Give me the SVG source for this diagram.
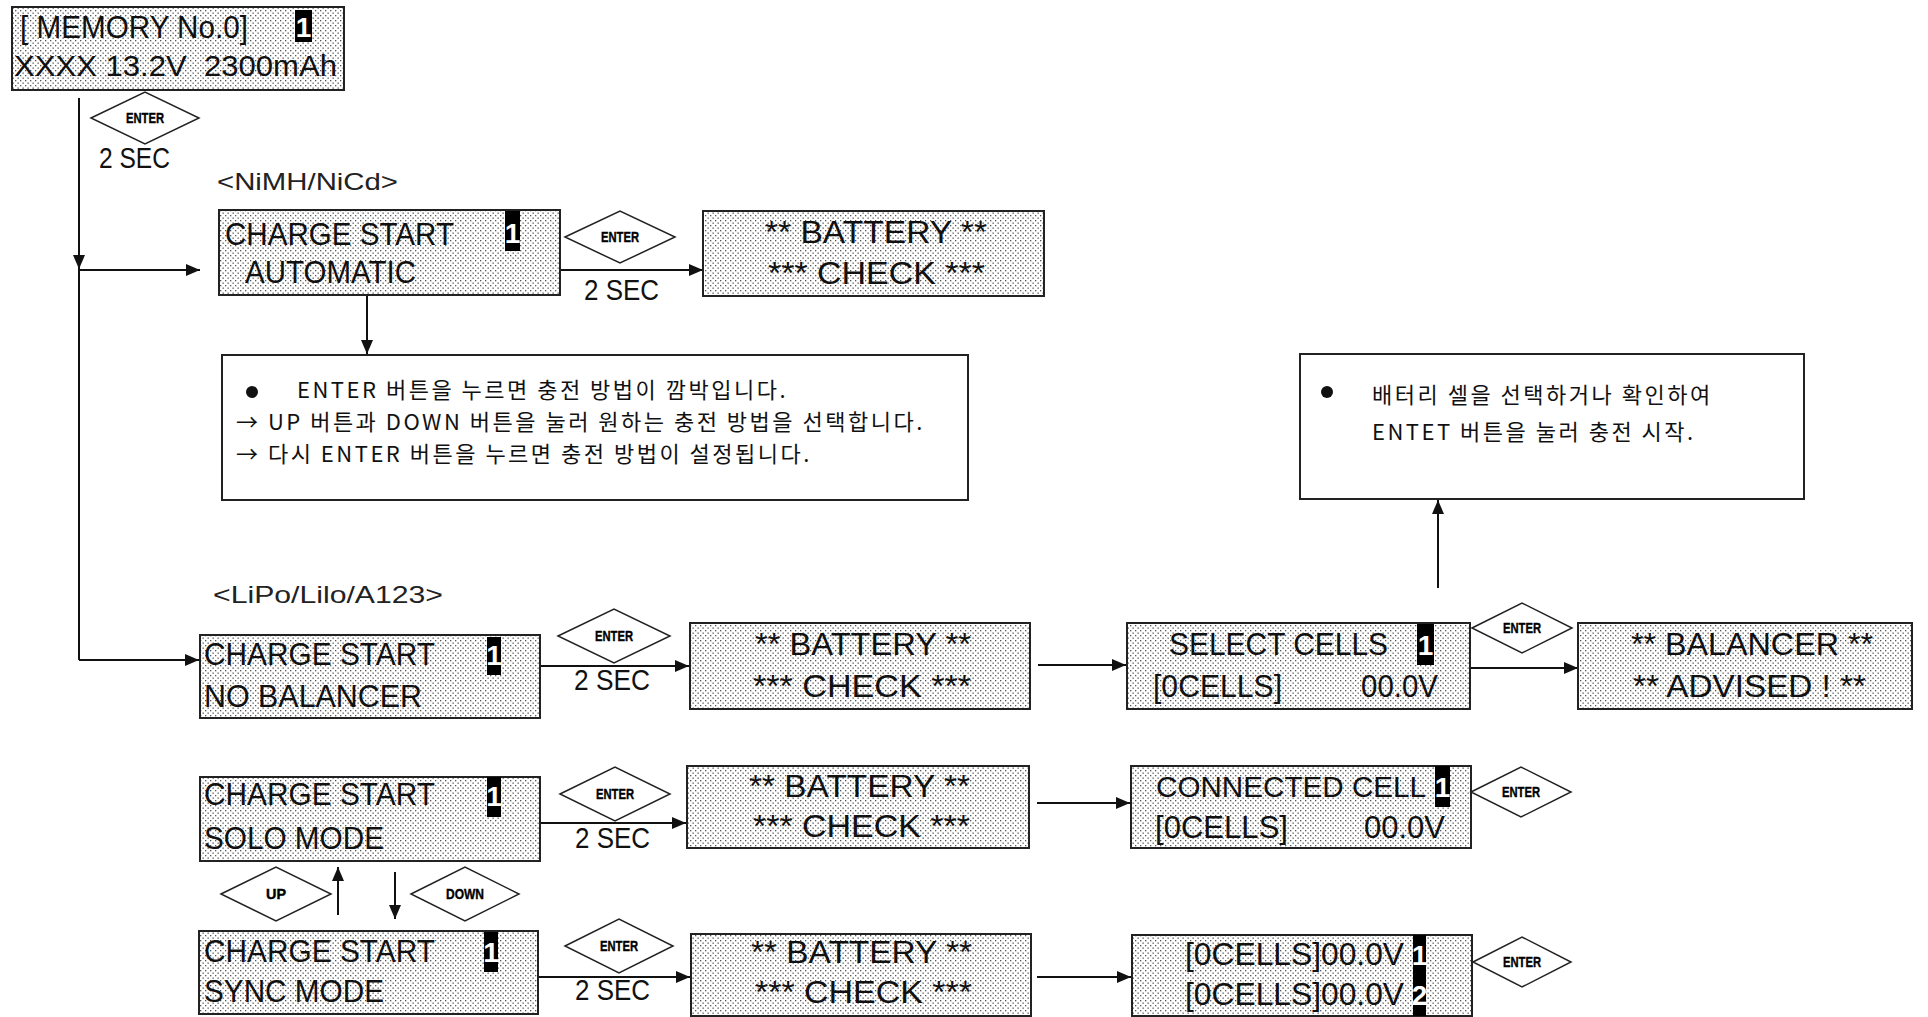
<svg xmlns="http://www.w3.org/2000/svg" width="1928" height="1017" viewBox="0 0 1928 1017">
<defs>
<pattern id="dots" patternUnits="userSpaceOnUse" width="5" height="5">
<rect width="5" height="5" fill="#ffffff"/>
<rect x="0" y="0" width="1.3" height="1.3" fill="#555"/>
<rect x="2.5" y="2.5" width="1.3" height="1.3" fill="#555"/>
</pattern>
<marker id="ah" viewBox="0 0 14 12" refX="14" refY="6" markerWidth="14" markerHeight="12" markerUnits="userSpaceOnUse" orient="auto">
<path d="M0,0 L14,6 L0,12 Z" fill="#111"/>
</marker>
</defs>
<style>
.lcd{fill:url(#dots);stroke:#222;stroke-width:2}
.t{font-family:"Liberation Sans",Arial,sans-serif;font-size:32px;fill:#111}
.t2{font-family:"Liberation Sans",Arial,sans-serif;font-size:30px;fill:#111}
.hl{fill:#000}
.hlt{font-family:"Liberation Sans",Arial,sans-serif;font-weight:bold;font-size:28px;fill:#fff;text-anchor:middle}
.dia{fill:#fff;stroke:#222;stroke-width:1.5}
.dt{font-family:"Liberation Sans",Arial,sans-serif;font-weight:bold;font-size:15px;fill:#000;stroke:#000;stroke-width:0.4;text-anchor:middle}
.sec{font-family:"Liberation Sans",Arial,sans-serif;font-size:29px;fill:#111}
.ln{stroke:#111;stroke-width:2;fill:none}
.arr{stroke:#111;stroke-width:2;fill:none;marker-end:url(#ah)}
.box{fill:#fff;stroke:#222;stroke-width:2}
.kr{font-family:"Noto Sans CJK KR","Liberation Sans",sans-serif;font-size:22px;letter-spacing:2.5px;fill:#111}
.lbl{font-family:"Liberation Sans",Arial,sans-serif;font-size:24px;fill:#222}
</style>

<g id="connectors">
<path class="ln" d="M79,98 V660"/>
<path class="arr" d="M79,240 V269"/>
<path class="arr" d="M79,270 H200"/>
<path class="arr" d="M79,660 H199"/>
<path class="arr" d="M560,270 H703"/>
<path class="arr" d="M367,296 V354"/>
<path class="arr" d="M1438,588 V500"/>
<path class="arr" d="M540,666 H689"/>
<path class="arr" d="M1038,665 H1126"/>
<path class="arr" d="M1470,668 H1578"/>
<path class="arr" d="M540,823 H686"/>
<path class="arr" d="M1037,803 H1130"/>
<path class="arr" d="M538,977 H690"/>
<path class="arr" d="M1037,977 H1131"/>
<path class="arr" d="M338,915 V867"/>
<path class="arr" d="M395,872 V919"/>
</g>

<g id="memory">
<rect class="lcd" x="12" y="7" width="332" height="83"/>
<text class="t" x="20" y="38" textLength="228" lengthAdjust="spacingAndGlyphs">[ MEMORY No.0]</text>
<rect class="hl" x="295" y="10" width="17" height="32"/>
<text class="hlt" x="303.5" y="37">1</text>
<text class="t2" x="14" y="76" textLength="323" lengthAdjust="spacingAndGlyphs" xml:space="preserve">XXXX 13.2V  2300mAh</text>
</g>

<g id="enter-memory">
<polygon class="dia" points="91,118 145,92 199,118 145,144"/>
<text class="dt" x="145" y="123" textLength="38" lengthAdjust="spacingAndGlyphs">ENTER</text>
<text class="sec" x="99" y="168" textLength="71" lengthAdjust="spacingAndGlyphs">2 SEC</text>
</g>

<text id="label-nimh" class="lbl" x="217" y="190" textLength="181" lengthAdjust="spacingAndGlyphs">&lt;NiMH/NiCd&gt;</text>

<g id="nimh-charge">
<rect class="lcd" x="219" y="210" width="341" height="85"/>
<text class="t" x="225" y="245" textLength="229" lengthAdjust="spacingAndGlyphs">CHARGE START</text>
<rect class="hl" x="505" y="211" width="15" height="40"/>
<text class="hlt" x="512.5" y="243">1</text>
<text class="t" x="245" y="283" textLength="171" lengthAdjust="spacingAndGlyphs">AUTOMATIC</text>
</g>

<g id="enter-nimh">
<polygon class="dia" points="565,237 620,211 675,237 620,263"/>
<text class="dt" x="620" y="242" textLength="38" lengthAdjust="spacingAndGlyphs">ENTER</text>
<text class="sec" x="584" y="300" textLength="75" lengthAdjust="spacingAndGlyphs">2 SEC</text>
</g>

<g id="battery-check-1">
<rect class="lcd" x="703" y="211" width="341" height="85"/>
<text class="t" x="765" y="243" textLength="222" lengthAdjust="spacingAndGlyphs">** BATTERY **</text>
<text class="t" x="768" y="284" textLength="217" lengthAdjust="spacingAndGlyphs">*** CHECK ***</text>
</g>

<g id="info-1">
<rect class="box" x="222" y="355" width="746" height="145"/>
<circle cx="252" cy="392" r="6" fill="#111"/>
<text class="kr" x="297" y="398">ENTER 버튼을 누르면 충전 방법이 깜박입니다.</text>
<text class="kr" x="236" y="430">→ UP 버튼과 DOWN 버튼을 눌러 원하는 충전 방법을 선택합니다.</text>
<text class="kr" x="236" y="462">→ 다시 ENTER 버튼을 누르면 충전 방법이 설정됩니다.</text>
</g>

<g id="info-2">
<rect class="box" x="1300" y="354" width="504" height="145"/>
<circle cx="1327" cy="392" r="6" fill="#111"/>
<text class="kr" x="1372" y="403">배터리 셀을 선택하거나 확인하여</text>
<text class="kr" x="1372" y="440">ENTET 버튼을 눌러 충전 시작.</text>
</g>

<text id="label-lipo" class="lbl" x="213" y="603" textLength="230" lengthAdjust="spacingAndGlyphs">&lt;LiPo/Lilo/A123&gt;</text>

<g id="no-balancer">
<rect class="lcd" x="200" y="635" width="340" height="83"/>
<text class="t" x="204" y="665" textLength="231" lengthAdjust="spacingAndGlyphs">CHARGE START</text>
<rect class="hl" x="487" y="637" width="14" height="38"/>
<text class="hlt" x="494" y="665">1</text>
<text class="t" x="204" y="707" textLength="218" lengthAdjust="spacingAndGlyphs">NO BALANCER</text>
</g>

<g id="enter-lipo">
<polygon class="dia" points="558,636 614,609 670,636 614,663"/>
<text class="dt" x="614" y="641" textLength="38" lengthAdjust="spacingAndGlyphs">ENTER</text>
<text class="sec" x="574" y="690" textLength="76" lengthAdjust="spacingAndGlyphs">2 SEC</text>
</g>

<g id="battery-check-2">
<rect class="lcd" x="690" y="623" width="340" height="86"/>
<text class="t" x="755" y="655" textLength="216" lengthAdjust="spacingAndGlyphs">** BATTERY **</text>
<text class="t" x="753" y="697" textLength="218" lengthAdjust="spacingAndGlyphs">*** CHECK ***</text>
</g>

<g id="select-cells">
<rect class="lcd" x="1127" y="623" width="343" height="86"/>
<text class="t" x="1169" y="655" textLength="219" lengthAdjust="spacingAndGlyphs">SELECT CELLS</text>
<rect class="hl" x="1417" y="624" width="17" height="41"/>
<text class="hlt" x="1425.5" y="655">1</text>
<text class="t" x="1153" y="697" textLength="129" lengthAdjust="spacingAndGlyphs">[0CELLS]</text>
<text class="t" x="1361" y="697" textLength="77" lengthAdjust="spacingAndGlyphs">00.0V</text>
</g>

<g id="enter-select">
<polygon class="dia" points="1472,628 1522,603 1572,628 1522,653"/>
<text class="dt" x="1522" y="633" textLength="38" lengthAdjust="spacingAndGlyphs">ENTER</text>
</g>

<g id="balancer-advised">
<rect class="lcd" x="1578" y="623" width="334" height="86"/>
<text class="t" x="1631" y="655" textLength="242" lengthAdjust="spacingAndGlyphs">** BALANCER **</text>
<text class="t" x="1633" y="697" textLength="233" lengthAdjust="spacingAndGlyphs">** ADVISED ! **</text>
</g>

<g id="solo-mode">
<rect class="lcd" x="200" y="777" width="340" height="84"/>
<text class="t" x="204" y="805" textLength="231" lengthAdjust="spacingAndGlyphs">CHARGE START</text>
<rect class="hl" x="487" y="777" width="14" height="40"/>
<text class="hlt" x="494" y="806">1</text>
<text class="t" x="204" y="849" textLength="180" lengthAdjust="spacingAndGlyphs">SOLO MODE</text>
</g>

<g id="enter-solo">
<polygon class="dia" points="560,794 615,767 670,794 615,821"/>
<text class="dt" x="615" y="799" textLength="38" lengthAdjust="spacingAndGlyphs">ENTER</text>
<text class="sec" x="575" y="848" textLength="75" lengthAdjust="spacingAndGlyphs">2 SEC</text>
</g>

<g id="battery-check-3">
<rect class="lcd" x="687" y="766" width="342" height="82"/>
<text class="t" x="749" y="797" textLength="221" lengthAdjust="spacingAndGlyphs">** BATTERY **</text>
<text class="t" x="753" y="837" textLength="217" lengthAdjust="spacingAndGlyphs">*** CHECK ***</text>
</g>

<g id="connected-cell">
<rect class="lcd" x="1131" y="766" width="340" height="82"/>
<text class="t" x="1156" y="797" style="font-size:29.5px" textLength="270" lengthAdjust="spacingAndGlyphs">CONNECTED CELL</text>
<rect class="hl" x="1435" y="766" width="15" height="41"/>
<text class="hlt" x="1442.5" y="797">1</text>
<text class="t" x="1155" y="838" textLength="133" lengthAdjust="spacingAndGlyphs">[0CELLS]</text>
<text class="t" x="1364" y="838" textLength="81" lengthAdjust="spacingAndGlyphs">00.0V</text>
</g>

<g id="enter-connected">
<polygon class="dia" points="1471,792 1521,767 1571,792 1521,817"/>
<text class="dt" x="1521" y="797" textLength="38" lengthAdjust="spacingAndGlyphs">ENTER</text>
</g>

<g id="up-key">
<polygon class="dia" points="221,894 276,867 331,894 276,921"/>
<text class="dt" x="276" y="899" textLength="20" lengthAdjust="spacingAndGlyphs">UP</text>
</g>

<g id="down-key">
<polygon class="dia" points="411,894 465,867 519,894 465,921"/>
<text class="dt" x="465" y="899" textLength="38" lengthAdjust="spacingAndGlyphs">DOWN</text>
</g>

<g id="sync-mode">
<rect class="lcd" x="199" y="931" width="339" height="83"/>
<text class="t" x="204" y="962" textLength="231" lengthAdjust="spacingAndGlyphs">CHARGE START</text>
<rect class="hl" x="484" y="932" width="14" height="40"/>
<text class="hlt" x="491" y="962">1</text>
<text class="t" x="204" y="1002" textLength="180" lengthAdjust="spacingAndGlyphs">SYNC MODE</text>
</g>

<g id="enter-sync">
<polygon class="dia" points="565,946 619,919 673,946 619,973"/>
<text class="dt" x="619" y="951" textLength="38" lengthAdjust="spacingAndGlyphs">ENTER</text>
<text class="sec" x="575" y="1000" textLength="75" lengthAdjust="spacingAndGlyphs">2 SEC</text>
</g>

<g id="battery-check-4">
<rect class="lcd" x="691" y="934" width="340" height="82"/>
<text class="t" x="751" y="963" textLength="221" lengthAdjust="spacingAndGlyphs">** BATTERY **</text>
<text class="t" x="755" y="1003" textLength="217" lengthAdjust="spacingAndGlyphs">*** CHECK ***</text>
</g>

<g id="cells-sync">
<rect class="lcd" x="1132" y="935" width="340" height="81"/>
<text class="t" x="1185" y="965" textLength="219" lengthAdjust="spacingAndGlyphs">[0CELLS]00.0V</text>
<text class="t" x="1185" y="1005" textLength="219" lengthAdjust="spacingAndGlyphs">[0CELLS]00.0V</text>
<rect class="hl" x="1413" y="935" width="13" height="81"/>
<text class="hlt" x="1419.5" y="965">1</text>
<text class="hlt" x="1419.5" y="1005">2</text>
</g>

<g id="enter-cells">
<polygon class="dia" points="1473,962 1522,937 1571,962 1522,987"/>
<text class="dt" x="1522" y="967" textLength="38" lengthAdjust="spacingAndGlyphs">ENTER</text>
</g>
</svg>
